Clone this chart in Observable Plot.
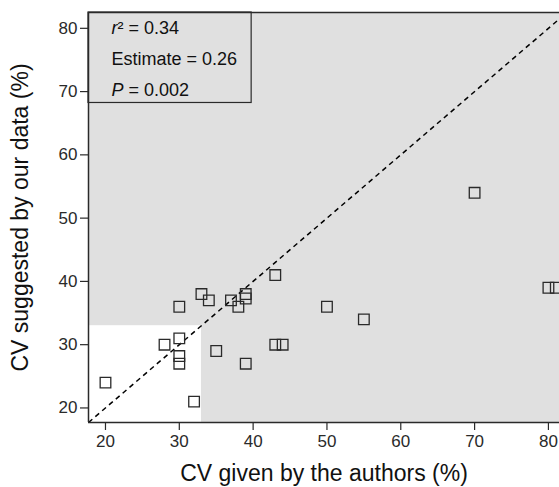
<!DOCTYPE html>
<html>
<head>
<meta charset="utf-8">
<script src="https://cdn.jsdelivr.net/npm/d3@7"></script>
<script src="https://cdn.jsdelivr.net/npm/@observablehq/plot@0.6"></script>
<style>
  html, body { margin: 0; padding: 0; background: #fff; }
  #chart svg { display: block; }
</style>
</head>
<body>
<div id="chart"></div>
<script>
// CV given by the authors (%)
const authorsCV = [20, 28, 30, 30, 30, 30, 32, 33, 34, 35, 37, 38, 39, 39, 39, 43, 43, 44, 50, 55, 70, 80, 81];
// CV suggested by our data (%)
const ourCV     = [24, 30, 36, 31, 28.2, 27, 21, 38, 37, 29, 37, 36, 38, 37.3, 27, 41, 30, 30, 36, 34, 54, 39, 39];
const xTicks = [20, 30, 40, 50, 60, 70, 80];
const yTicks = [20, 30, 40, 50, 60, 70, 80];
const threshold = 33; // white region: both CVs below 33%
const legendLines = ["r² = 0.34", "Estimate = 0.26", "P = 0.002"];
const xLabel = "CV given by the authors (%)";
const yLabel = "CV suggested by our data (%)";

const points = authorsCV.map((x, i) => ({x, y: ourCV[i]}));
const xDomain = [17.7, 81.5];
const yDomain = [17.7, 82.5];
const legendBox = {x1: xDomain[0], x2: 39.8, y1: 68.2, y2: yDomain[1]};

const ink = "#2a2a2a";
const chart = Plot.plot({
  width: 559,
  height: 487,
  marginLeft: 88,
  marginTop: 12,
  marginRight: 0,
  marginBottom: 65,
  style: {fontFamily: "'Liberation Sans', Arial, Helvetica, sans-serif", background: "#fff", color: ink},
  x: {domain: xDomain, label: null},
  y: {domain: yDomain, label: null},
  marks: [
    Plot.frame({fill: "#e0e0e0", stroke: "none"}),
    Plot.rect([{x1: xDomain[0], x2: threshold, y1: yDomain[0], y2: threshold}],
      {x1: "x1", x2: "x2", y1: "y1", y2: "y2", fill: "#fff", inset: 0}),
    Plot.link([{a: xDomain[0], b: yDomain[1]}],
      {x1: "a", y1: "a", x2: "b", y2: "b", stroke: "#000", strokeWidth: 1.5, strokeDasharray: "5,4", clip: true}),
    Plot.dot(points, {x: "x", y: "y", symbol: "square", r: 6, stroke: ink, strokeWidth: 1.3, fill: "none"}),
    Plot.rect([legendBox], {x1: "x1", x2: "x2", y1: "y1", y2: "y2", fill: "#e0e0e0", stroke: ink, strokeWidth: 1.2, inset: 0}),
    ...legendLines.map((t, i) => Plot.text([t], {
      frameAnchor: "top-left", dx: 23, dy: 21 + 31 * i, textAnchor: "start", lineAnchor: "bottom",
      fontSize: 18, fill: "#111"
    })),
    Plot.ruleY([yDomain[1]], {stroke: ink, strokeWidth: 1.5}),
    Plot.ruleX([xDomain[0]], {stroke: ink, strokeWidth: 1.5}),
    Plot.ruleY([yDomain[0]], {stroke: ink, strokeWidth: 1.5}),
    Plot.axisX({ticks: xTicks, tickSize: 8, tickPadding: 4, fontSize: 17, label: null, stroke: ink, strokeWidth: 1.2, tickFormat: d => d}),
    Plot.axisY({ticks: yTicks, tickSize: 8, tickPadding: 3, fontSize: 17, label: null, stroke: ink, strokeWidth: 1.2, tickFormat: d => d}),
    Plot.text([xLabel], {frameAnchor: "bottom", dy: 58, textAnchor: "middle", lineAnchor: "bottom", fontSize: 23, fill: "#111"}),
    Plot.text([yLabel], {frameAnchor: "left", dx: -61, rotate: -90, textAnchor: "middle", lineAnchor: "bottom", fontSize: 23, fill: "#111"})
  ]
});
document.getElementById("chart").appendChild(chart);

// italic symbols in the legend (r, P)
d3.select(chart).selectAll("text").each(function() {
  const s = this.textContent;
  if (s === legendLines[0] || s === legendLines[2]) {
    const el = d3.select(this);
    const first = s[0];
    const rest = s.slice(1);
    el.text(null);
    el.append("tspan").attr("font-style", "italic").text(first);
    el.append("tspan").text(rest);
  }
});
</script>
</body>
</html>
